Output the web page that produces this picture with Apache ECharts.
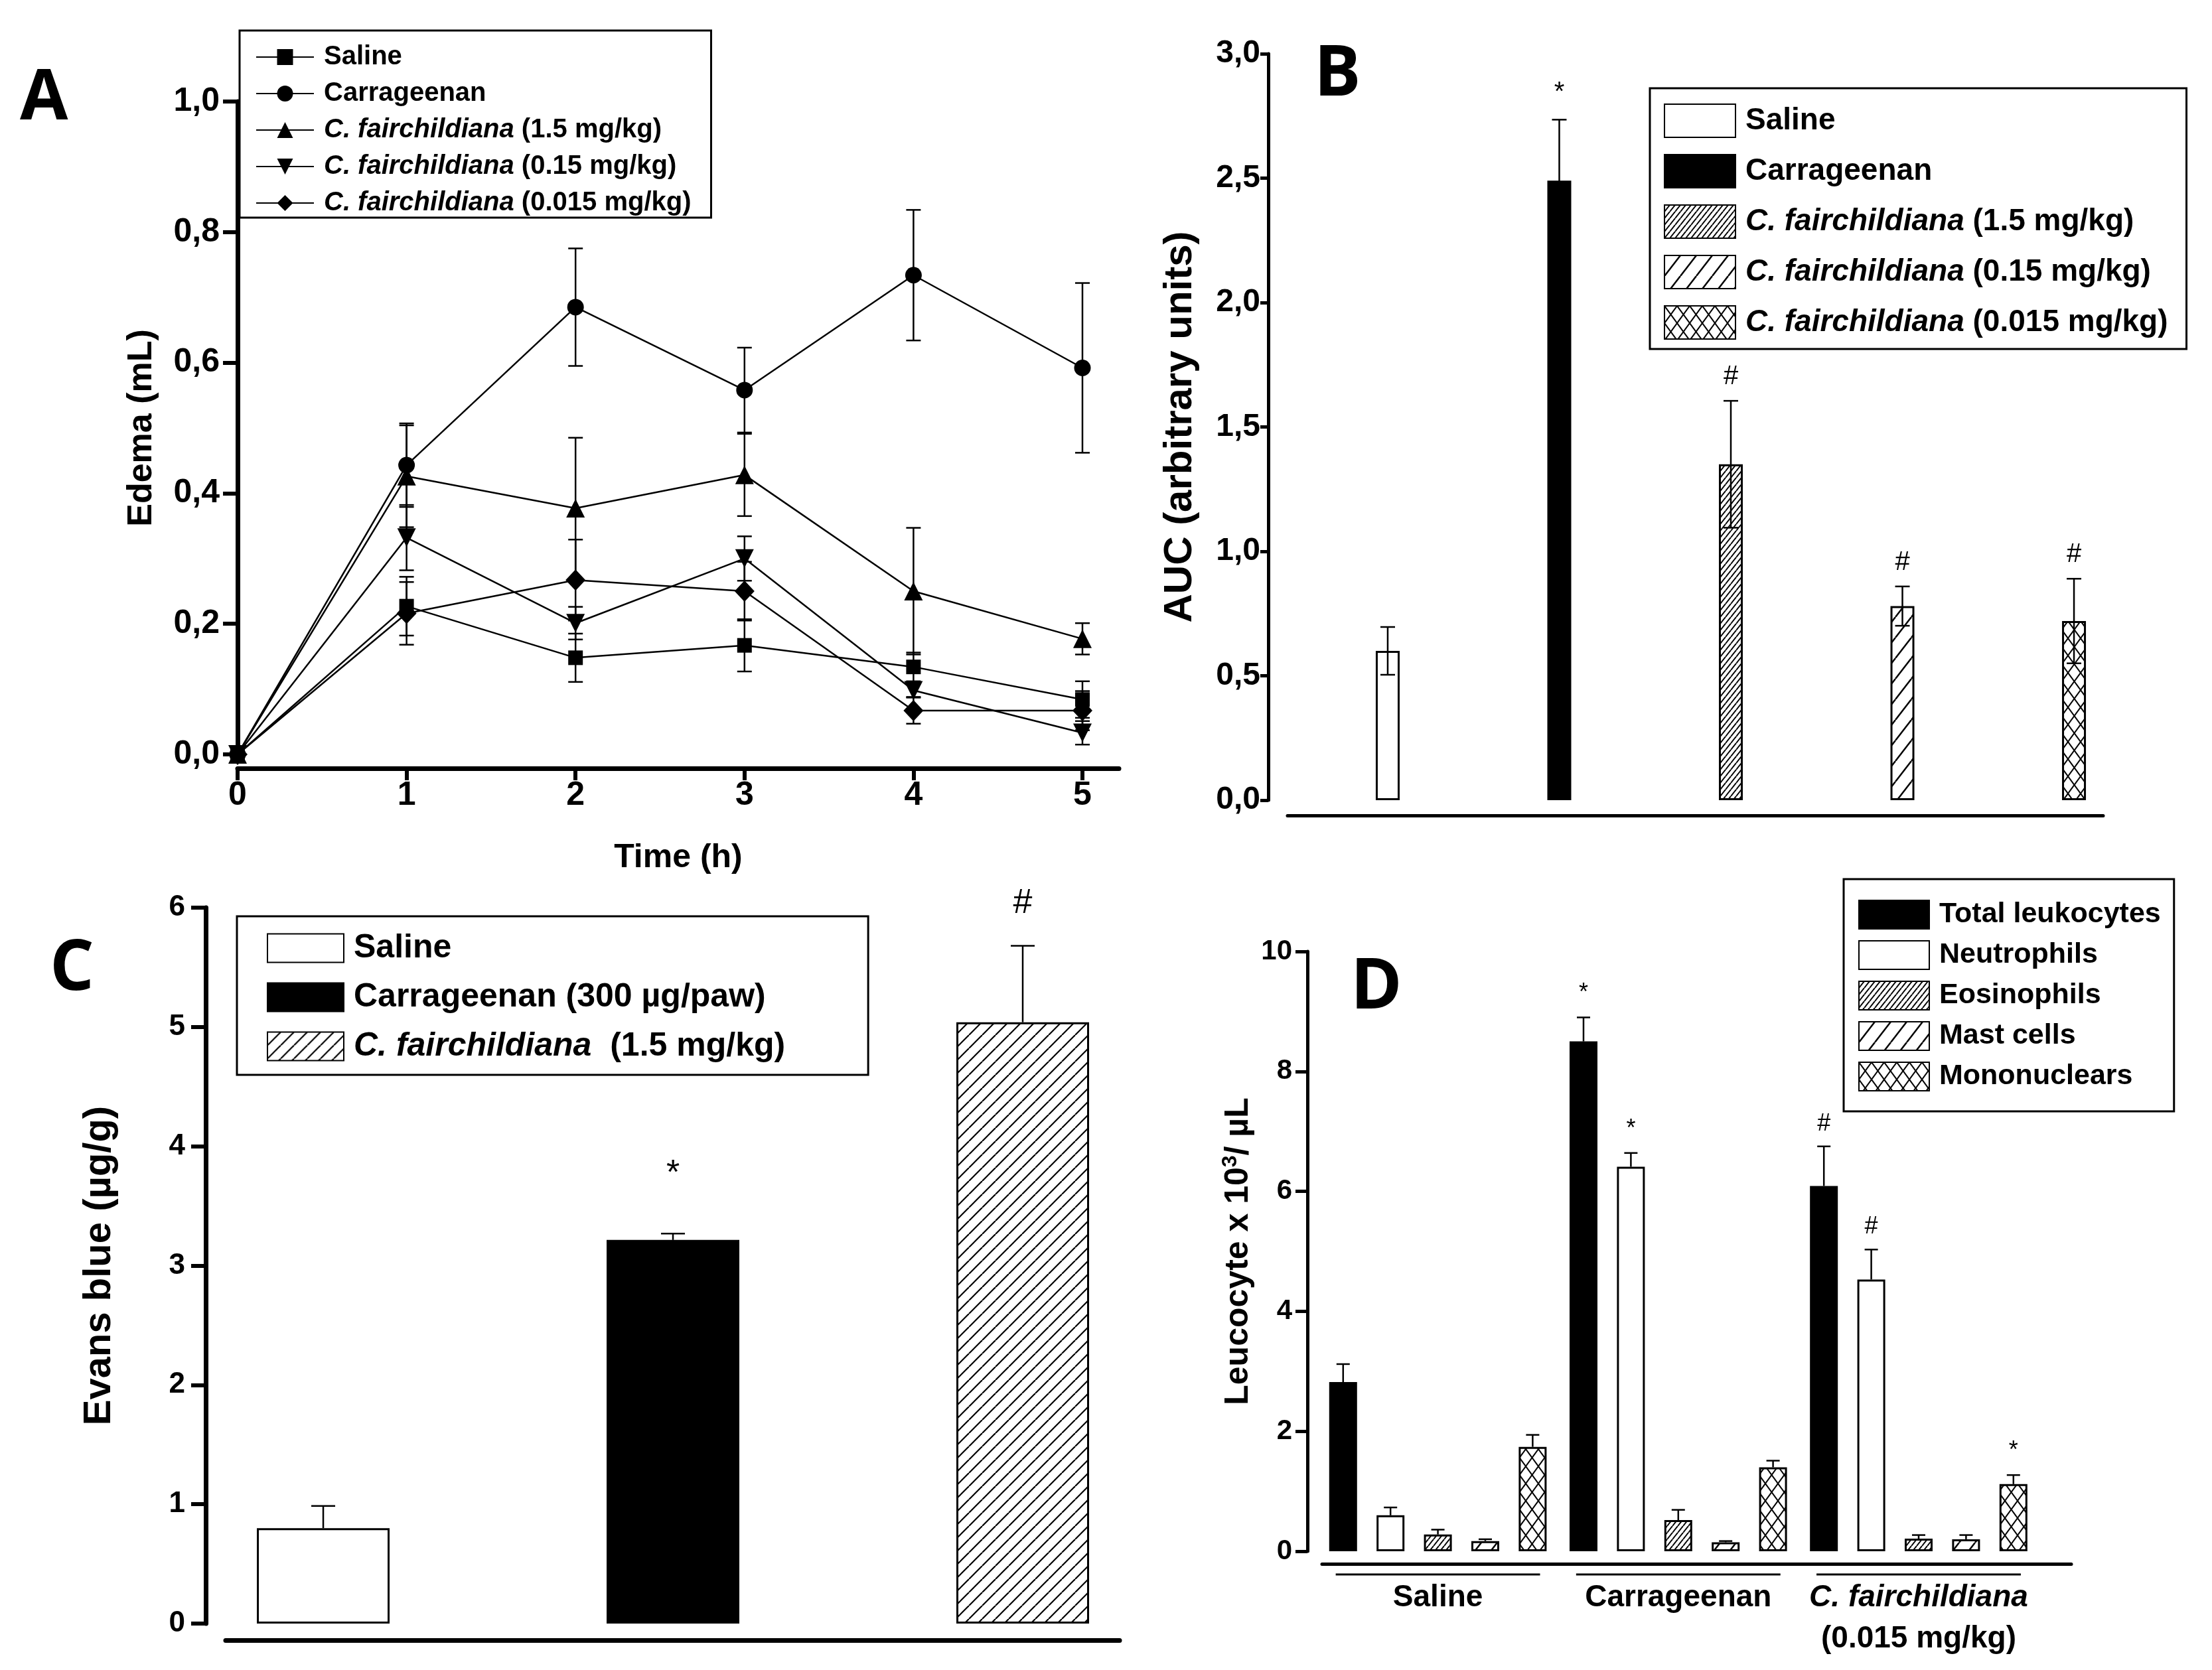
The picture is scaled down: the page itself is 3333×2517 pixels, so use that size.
<!DOCTYPE html>
<html>
<head>
<meta charset="utf-8">
<script src="https://cdn.jsdelivr.net/npm/echarts@6/dist/echarts.min.js"></script>
<style>
  html, body { margin: 0; padding: 0; background: #fff; }
  #chart { width: 3333px; height: 2517px; }
</style>
</head>
<body>
<div id="chart"></div>
<script>
// ---- A: paw edema time course ----
const hours = [0, 1, 2, 3, 4, 5];
const edemaSaline = [0, 0.227, 0.148, 0.167, 0.134, 0.084];
const edemaSalineErr = [0, 0.045, 0.037, 0.040, 0.022, 0.028];
const edemaCarr = [0, 0.443, 0.685, 0.558, 0.734, 0.592];
const edemaCarrErr = [0, 0.064, 0.090, 0.065, 0.100, 0.130];
const edemaCf15 = [0, 0.426, 0.377, 0.428, 0.250, 0.177];
const edemaCf15Err = [0, 0.078, 0.108, 0.063, 0.097, 0.024];
const edemaCf015 = [0, 0.332, 0.201, 0.300, 0.098, 0.033];
const edemaCf015Err = [0, 0.050, 0.025, 0.034, 0.010, 0.018];
const edemaCf0015 = [0, 0.216, 0.267, 0.250, 0.067, 0.067];
const edemaCf0015Err = [0, 0.048, 0.062, 0.045, 0.020, 0.030];
const edemaNames = ['Saline', 'Carrageenan', 'C. fairchildiana (1.5 mg/kg)',
  'C. fairchildiana (0.15 mg/kg)', 'C. fairchildiana (0.015 mg/kg)'];

// ---- B: AUC ----
const aucGroups = ['Saline', 'Carrageenan', 'C. fairchildiana (1.5 mg/kg)',
  'C. fairchildiana (0.15 mg/kg)', 'C. fairchildiana (0.015 mg/kg)'];
const aucMean = [0.60, 2.49, 1.35, 0.78, 0.72];
const aucErr = [0.096, 0.245, 0.255, 0.079, 0.170];
const aucMarks = ['', '*', '#', '#', '#'];

// ---- C: Evans blue ----
const evansGroups = ['Saline', 'Carrageenan (300 µg/paw)', 'C. fairchildiana  (1.5 mg/kg)'];
const evansMean = [0.80, 3.215, 5.04];
const evansErr = [0.186, 0.053, 0.64];
const evansMarks = ['', '*', '#'];

// ---- D: leukocytes ----
const leukoGroups = ['Saline', 'Carrageenan', '{i|C. fairchildiana}\n(0.015 mg/kg)'];
const cellTypes = ['Total leukocytes', 'Neutrophils', 'Eosinophils', 'Mast cells', 'Mononuclears'];
const totalLeuko = [2.82, 8.50, 6.09];
const totalLeukoErr = [0.30, 0.40, 0.66];
const neutrophils = [0.60, 6.41, 4.53];
const neutrophilsErr = [0.13, 0.23, 0.50];
const eosinophils = [0.28, 0.52, 0.21];
const eosinophilsErr = [0.08, 0.17, 0.06];
const mastCells = [0.17, 0.15, 0.20];
const mastCellsErr = [0.03, 0.02, 0.07];
const mononuclears = [1.74, 1.40, 1.12];
const mononuclearsErr = [0.20, 0.11, 0.15];
const totalMarks = ['', '*', '#'];
const neutroMarks = ['', '*', '#'];
const mononucMarks = ['', '', '*'];

const FONT = "'Liberation Sans', Arial, sans-serif";

// hatch fills
function hatch(w, h, lw, cross) {
  const c = document.createElement('canvas');
  c.width = w; c.height = h;
  const g = c.getContext('2d');
  g.fillStyle = '#fff';
  g.fillRect(0, 0, w, h);
  g.strokeStyle = '#000';
  g.lineWidth = lw;
  [-w, 0, w].forEach(dx => {
    g.beginPath(); g.moveTo(dx, h); g.lineTo(dx + w, 0); g.stroke();
    if (cross) { g.beginPath(); g.moveTo(dx, 0); g.lineTo(dx + w, h); g.stroke(); }
  });
  return { image: c, repeat: 'repeat' };
}
const dense = hatch(8, 10, 2);
const sparse = hatch(24, 31, 2.5);
const crossed = hatch(19, 26, 2, true);
const cHatch = hatch(20, 20, 2.2);
const fillsB = ['#fff', '#000', dense, sparse, crossed];
const fillsC = ['#fff', '#000', cHatch];
const fillsD = ['#000', '#fff', dense, sparse, crossed];

const chart = echarts.init(document.getElementById('chart'));

function italicName(name) {
  const n = name.split('|')[1];
  return n.replace('C. fairchildiana', '{i|C. fairchildiana}');
}
function legendText(size) {
  return {
    color: '#000', fontFamily: FONT, fontWeight: 'bold', fontSize: size,
    padding: [0, 0, 0, 10],
    rich: { i: { fontFamily: FONT, fontWeight: 'bold', fontStyle: 'italic', fontSize: size } }
  };
}

// error bar drawing
function errShape(x1, y1, x2, y2, lw) {
  return { type: 'line', shape: { x1, y1, x2, y2 }, style: { stroke: '#000', lineWidth: lw } };
}
function makeErr(opts) {
  return function (params, api) {
    const x = api.value(0), y = api.value(1), e = api.value(2), k = api.value(3) || 0;
    if (!e) return null;
    const dx = opts.step ? (k - 2) * opts.step : 0;
    const top = api.coord([x, y + e]);
    const mid = api.coord([x, y]);
    const bot = opts.both ? api.coord([x, y - e]) : mid;
    const cx = top[0] + dx;
    const hw = opts.cap;
    const kids = [
      errShape(cx, top[1], cx, bot[1], opts.lw),
      errShape(cx - hw, top[1], cx + hw, top[1], opts.lw)
    ];
    if (opts.both) kids.push(errShape(cx - hw, bot[1], cx + hw, bot[1], opts.lw));
    const mark = opts.marks ? opts.marks[params.dataIndex] : '';
    if (mark) {
      kids.push({
        type: 'text',
        style: {
          text: mark, x: cx, y: top[1] - opts.markGap[mark],
          align: 'center', verticalAlign: 'middle',
          font: opts.markSize + 'px ' + FONT, fill: '#000'
        }
      });
    }
    return { type: 'group', children: kids };
  };
}

// ---- series ----
const series = [];
const edemaSets = [edemaSaline, edemaCarr, edemaCf15, edemaCf015, edemaCf0015];
const edemaErrs = [edemaSalineErr, edemaCarrErr, edemaCf15Err, edemaCf015Err, edemaCf0015Err];
const symbolsA = ['rect', 'circle', 'triangle', 'triangle', 'diamond'];
const symbolSizeA = [22, 25, 28, 28, [30, 32]];
const errRowsA = [];
edemaSets.forEach((vals, s) => {
  series.push({
    name: 'A|' + edemaNames[s],
    type: 'line', xAxisIndex: 0, yAxisIndex: 0,
    data: hours.map((h, i) => [h, vals[i]]),
    symbol: symbolsA[s], symbolSize: symbolSizeA[s], symbolRotate: s === 3 ? 180 : 0,
    showAllSymbol: true,
    lineStyle: { color: '#000', width: 2.5 },
    itemStyle: { color: '#000' },
    z: 3
  });
  hours.forEach((h, i) => errRowsA.push([h, vals[i], edemaErrs[s][i]]));
});
series.push({
  type: 'custom', xAxisIndex: 0, yAxisIndex: 0, data: errRowsA,
  renderItem: makeErr({ both: true, cap: 11, lw: 2.5 }), z: 2
});

aucGroups.forEach((g, i) => {
  series.push({
    name: 'B|' + g, type: 'bar', xAxisIndex: 1, yAxisIndex: 1,
    data: [[i + 1, aucMean[i]]], barWidth: 36, barGap: '-100%',
    itemStyle: { color: fillsB[i], borderColor: '#000', borderWidth: 3 }
  });
});
series.push({
  type: 'custom', xAxisIndex: 1, yAxisIndex: 1,
  data: aucMean.map((v, i) => [i + 1, v, aucErr[i]]),
  renderItem: makeErr({ both: true, cap: 11, lw: 2.5, marks: aucMarks, markSize: 40, markGap: { '*': 40, '#': 36 } }),
  z: 5
});

evansGroups.forEach((g, i) => {
  series.push({
    name: 'C|' + g, type: 'bar', xAxisIndex: 2, yAxisIndex: 2,
    data: [[i + 1, evansMean[i]]], barWidth: 200, barGap: '-100%',
    itemStyle: { color: fillsC[i], borderColor: '#000', borderWidth: 3 }
  });
});
series.push({
  type: 'custom', xAxisIndex: 2, yAxisIndex: 2,
  data: evansMean.map((v, i) => [i + 1, v, evansErr[i]]),
  renderItem: makeErr({ both: false, cap: 18, lw: 2.5, marks: evansMarks, markSize: 52, markGap: { '*': 90, '#': 64 } }),
  z: 5
});

const D_BAR = 42, D_GAP = 0.7;
const cellSets = [totalLeuko, neutrophils, eosinophils, mastCells, mononuclears];
const cellErrs = [totalLeukoErr, neutrophilsErr, eosinophilsErr, mastCellsErr, mononuclearsErr];
const cellMarks = [totalMarks, neutroMarks, ['', '', ''], ['', '', ''], mononucMarks];
const errRowsD = [], marksD = [];
cellSets.forEach((vals, k) => {
  series.push({
    name: 'D|' + cellTypes[k], type: 'bar', xAxisIndex: 3, yAxisIndex: 3,
    data: vals.map((v, g) => [g + 1, v]), barWidth: D_BAR, barGap: (D_GAP * 100) + '%',
    itemStyle: { color: fillsD[k], borderColor: '#000', borderWidth: 3 }
  });
  vals.forEach((v, g) => { errRowsD.push([g + 1, v, cellErrs[k][g], k]); marksD.push(cellMarks[k][g]); });
});
series.push({
  type: 'custom', xAxisIndex: 3, yAxisIndex: 3, data: errRowsD,
  renderItem: makeErr({ both: false, cap: 10, lw: 2.5, step: D_BAR * (1 + D_GAP), marks: marksD, markSize: 36, markGap: { '*': 36, '#': 34 } }),
  z: 5
});
// group underlines below the D axis
series.push({
  type: 'custom', xAxisIndex: 3, yAxisIndex: 3,
  data: leukoGroups.map((g, i) => [i + 1, 0]),
  renderItem: function (params, api) {
    const c = api.coord([api.value(0), 0]);
    const half = api.size([1, 0])[0] * 0.425;
    return errShape(c[0] - half, c[1] + 35, c[0] + half, c[1] + 35, 3);
  }
});

function valueAxisBase(extra) {
  return Object.assign({
    type: 'value', splitLine: { show: false },
    axisLine: { show: true, onZero: false, lineStyle: { color: '#000', width: 5 } },
    axisTick: { show: false }, axisLabel: { show: false }
  }, extra);
}
const comma = v => v.toFixed(1).replace('.', ',');

const option = {
  backgroundColor: '#fff',
  animation: false,
  title: [
    { text: 'A', left: 30, top: 98 },
    { text: 'B', left: 1980, top: 62 },
    { text: 'C', left: 75, top: 1410 },
    { text: 'D', left: 2035, top: 1438 }
  ].map(t => Object.assign(t, { padding: 0, textStyle: { fontFamily: "'Open Sans', sans-serif", fontWeight: 'bold', fontSize: 105, color: '#000' } })),
  grid: [
    { left: 358, top: 153, width: 1328, height: 984 },
    { left: 1940, top: 81, width: 1229, height: 1125 },
    { left: 340, top: 1368, width: 1347, height: 1079 },
    { left: 1992, top: 1434, width: 1129, height: 904 }
  ],
  xAxis: [
    valueAxisBase({
      gridIndex: 0, min: 0, max: 5.216, offset: 21,
      axisLine: { show: true, onZero: false, lineStyle: { color: '#000', width: 7 } },
      axisTick: { show: true, customValues: hours, length: 18, lineStyle: { color: '#000', width: 6 } },
      axisLabel: { show: true, customValues: hours, margin: 16, color: '#000', fontFamily: FONT, fontWeight: 'bold', fontSize: 50 },
      name: 'Time (h)', nameLocation: 'middle', nameGap: 110,
      nameTextStyle: { color: '#000', fontFamily: FONT, fontWeight: 'bold', fontSize: 50 }
    }),
    valueAxisBase({ gridIndex: 1, min: 0.416, max: 5.17, offset: 23 }),
    valueAxisBase({ gridIndex: 2, min: 0.721, max: 3.277, offset: 25,
      axisLine: { show: true, onZero: false, lineStyle: { color: '#000', width: 7 } } }),
    valueAxisBase({
      gridIndex: 3, min: 0.518, max: 3.635, offset: 19,
      axisLabel: {
        show: true, customValues: [1, 2, 3], formatter: v => leukoGroups[v - 1],
        margin: 20, color: '#000', fontFamily: FONT, fontWeight: 'bold', fontSize: 46, lineHeight: 62,
        rich: { i: { fontFamily: FONT, fontWeight: 'bold', fontStyle: 'italic', fontSize: 46, lineHeight: 62 } }
      }
    })
  ],
  yAxis: [
    valueAxisBase({
      gridIndex: 0, min: 0, max: 1, interval: 0.2,
      axisLine: { show: true, onZero: false, lineStyle: { color: '#000', width: 7 } },
      axisTick: { show: true, length: 22, lineStyle: { color: '#000', width: 6 } },
      axisLabel: { show: true, formatter: comma, margin: 27, color: '#000', fontFamily: FONT, fontWeight: 'bold', fontSize: 50 },
      name: 'Edema (mL)', nameLocation: 'middle', nameGap: 118,
      nameTextStyle: { color: '#000', fontFamily: FONT, fontWeight: 'bold', fontSize: 52 }
    }),
    valueAxisBase({
      gridIndex: 1, min: 0, max: 3, interval: 0.5, offset: 29,
      axisTick: { show: true, length: 12, lineStyle: { color: '#000', width: 5 } },
      axisLabel: { show: true, formatter: comma, margin: 12, color: '#000', fontFamily: FONT, fontWeight: 'bold', fontSize: 48 },
      name: 'AUC (arbitrary units)', nameLocation: 'middle', nameGap: 103,
      nameTextStyle: { color: '#000', fontFamily: FONT, fontWeight: 'bold', fontSize: 60 }
    }),
    valueAxisBase({
      gridIndex: 2, min: 0, max: 6, interval: 1, offset: 30,
      axisLine: { show: true, onZero: false, lineStyle: { color: '#000', width: 7 } },
      axisTick: { show: true, length: 22, lineStyle: { color: '#000', width: 6 } },
      axisLabel: { show: true, margin: 31, color: '#000', fontFamily: FONT, fontWeight: 'bold', fontSize: 44 },
      name: 'Evans blue (µg/g)', nameLocation: 'middle', nameGap: 131,
      nameTextStyle: { color: '#000', fontFamily: FONT, fontWeight: 'bold', fontSize: 58 }
    }),
    valueAxisBase({
      gridIndex: 3, min: 0, max: 10, interval: 2, offset: 22,
      axisTick: { show: true, length: 18, lineStyle: { color: '#000', width: 5 } },
      axisLabel: { show: true, margin: 23, color: '#000', fontFamily: FONT, fontWeight: 'bold', fontSize: 42 },
      name: 'Leucocyte x 10{sup|3}/ µL', nameLocation: 'middle', nameGap: 76,
      nameTextStyle: {
        color: '#000', fontFamily: FONT, fontWeight: 'bold', fontSize: 50, lineHeight: 56,
        rich: { sup: { fontFamily: FONT, fontWeight: 'bold', fontSize: 32, verticalAlign: 'top', lineHeight: 56 } }
      }
    })
  ],
  legend: [
    {
      data: edemaNames.map(n => 'A|' + n), orient: 'vertical', left: 361, top: 46,
      itemWidth: 87, itemHeight: 30, itemGap: 15, padding: [20, 30, 2, 24],
      borderColor: '#000', borderWidth: 3, selectedMode: false,
      formatter: italicName, textStyle: Object.assign(legendText(40), { lineHeight: 40 })
    },
    {
      data: aucGroups.map(n => 'B|' + n), orient: 'vertical', left: 2486, top: 133,
      icon: 'rect', itemWidth: 107, itemHeight: 50, itemGap: 24, padding: [23, 28, 14, 21],
      borderColor: '#000', borderWidth: 3, selectedMode: false,
      formatter: italicName, textStyle: legendText(46)
    },
    {
      data: evansGroups.map(n => 'C|' + n), orient: 'vertical', left: 357, top: 1381,
      icon: 'rect', itemWidth: 115, itemHeight: 43, itemGap: 24, padding: [23, 125, 18, 45],
      borderColor: '#000', borderWidth: 3, selectedMode: false,
      formatter: italicName, textStyle: legendText(50)
    },
    {
      data: cellTypes.map(n => 'D|' + n), orient: 'vertical', left: 2778, top: 1325,
      icon: 'rect', itemWidth: 106, itemHeight: 43, itemGap: 16, padding: [31, 20, 30, 22],
      borderColor: '#000', borderWidth: 3, selectedMode: false,
      formatter: italicName, textStyle: legendText(43)
    }
  ],
  series: series
};

chart.setOption(option);
window.addEventListener('resize', () => chart.resize());
</script>
</body>
</html>
